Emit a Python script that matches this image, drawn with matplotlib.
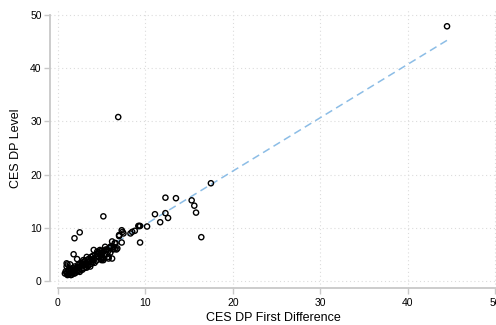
import numpy as np
import matplotlib
matplotlib.use("Agg")
import matplotlib.pyplot as plt

plt.rcParams['font.family'] = ['Liberation Sans', 'DejaVu Sans']

# CES DP: first difference (x) vs level (y)
first_diff = [
    44.5, 6.9, 17.5, 12.3, 13.5, 15.3, 15.6, 15.8, 11.1, 12.3, 12.6, 11.7,
    10.2, 9.4, 16.4, 9.4, 5.2, 9.3, 8.5, 8.8, 8.3, 7.0, 7.4, 7.3, 6.2, 6.5,
    7.3, 6.7, 6.4, 6.0, 5.6, 5.4, 5.0, 5.8, 5.2, 5.0, 6.2, 2.5, 1.9, 1.8,
    2.2, 1.4, 1.1, 2.9, 3.3, 3.7, 4.1, 4.5, 4.8, 5.0, 5.2, 5.8, 5.4, 6.6,
    6.8, 7.0, 7.5, 9.2,
    0.8, 1.0, 1.0, 1.2, 1.0, 1.1, 1.2, 1.3, 1.4, 1.5, 1.6, 1.7, 1.8, 1.9,
    2.0, 2.1, 2.2, 2.3, 2.4, 2.5, 2.6, 2.7, 2.8, 2.9, 3.0, 3.1, 3.2, 3.3,
    3.4, 3.5, 3.6, 3.7, 3.8, 3.9, 4.0, 4.1, 4.2, 4.3, 4.4, 4.5, 4.6, 4.7,
    4.8, 4.9, 5.0, 5.1, 5.3, 5.5, 5.7, 5.9, 6.1, 6.3,
    1.5, 2.0, 2.5, 3.0, 3.5, 1.3, 1.7, 2.2, 2.8, 3.4, 4.0, 1.1, 1.6,
    0.9, 1.4, 1.9, 2.4, 2.7, 3.2, 3.8, 4.4, 4.9, 5.6, 6.0, 6.5,
]
level = [
    47.8, 30.8, 18.4, 15.7, 15.6, 15.2, 14.2, 12.9, 12.6, 12.8, 11.9, 11.1,
    10.3, 10.4, 8.3, 7.3, 12.2, 10.4, 9.3, 9.5, 9.0, 8.7, 9.3, 9.6, 7.5, 7.2,
    7.3, 6.0, 6.5, 6.5, 5.9, 5.0, 5.3, 4.6, 4.3, 4.0, 4.3, 9.2, 8.1, 5.1,
    4.2, 3.2, 3.2, 4.0, 4.6, 2.8, 5.9, 5.6, 5.9, 4.6, 4.0, 4.3, 6.5, 7.2,
    6.2, 8.5, 9.0, 10.4,
    1.5, 3.4, 2.8, 2.2, 1.5, 1.8, 1.3, 2.0, 1.6, 2.2, 1.9, 2.5, 2.1, 2.8,
    2.4, 1.9, 2.7, 3.1, 2.6, 3.3, 2.9, 3.5, 3.0, 3.6, 3.2, 3.9, 3.4, 2.6,
    4.1, 3.7, 4.3, 3.9, 4.6, 4.0, 4.8, 4.3, 3.5, 5.0, 4.5, 5.2, 4.7, 5.5,
    5.0, 5.7, 5.3, 4.4, 5.8, 6.0, 5.5, 6.3, 6.6, 6.0,
    1.2, 1.6, 1.8, 2.5, 3.0, 1.4, 1.5, 2.0, 2.2, 2.9, 3.6, 1.2, 1.3,
    1.9, 2.4, 1.5, 2.0, 2.3, 2.7, 3.3, 3.9, 4.2, 5.1, 5.4, 6.1,
]

# fitted line
fit_intercept = 0.67
fit_slope = 1.0

fig = plt.figure(figsize=(4.96, 3.25), dpi=100)
ax = fig.add_axes([50 / 496, 37 / 325, 446 / 496, 278.8 / 325])

ax.scatter(first_diff, level, s=14, facecolors='none', edgecolors='black',
           linewidths=1.0, zorder=3)

xs = np.array([min(first_diff), max(first_diff)])
ax.plot(xs, fit_intercept + fit_slope * xs, color='#8cbde6', lw=1.1,
        dashes=(5, 3), zorder=2)

ax.set_xlim(-0.9, 50.1)
ax.set_ylim(-1.22, 51)

ticks = [0, 10, 20, 30, 40, 50]
ax.set_xticks(ticks)
ax.set_yticks(ticks)
ax.grid(True, color='#dcdcdc', linestyle=(0, (1, 2.5)), linewidth=0.8)
ax.set_axisbelow(True)

for s in ['top', 'right']:
    ax.spines[s].set_visible(False)
for s in ['left', 'bottom']:
    ax.spines[s].set_color('#c8c8c8')
    ax.spines[s].set_linewidth(1.3)
    ax.spines[s].set_bounds(0, 50)

ax.tick_params(colors='#c8c8c8', length=4, width=1, labelsize=7.5,
               labelcolor='black')
ax.tick_params(axis='y', pad=2)
ax.tick_params(axis='x', pad=3)

ax.set_xlabel('CES DP First Difference', fontsize=9, labelpad=3)
ax.set_ylabel('CES DP Level', fontsize=9, labelpad=6)

fig.savefig('out.png', dpi=100)
